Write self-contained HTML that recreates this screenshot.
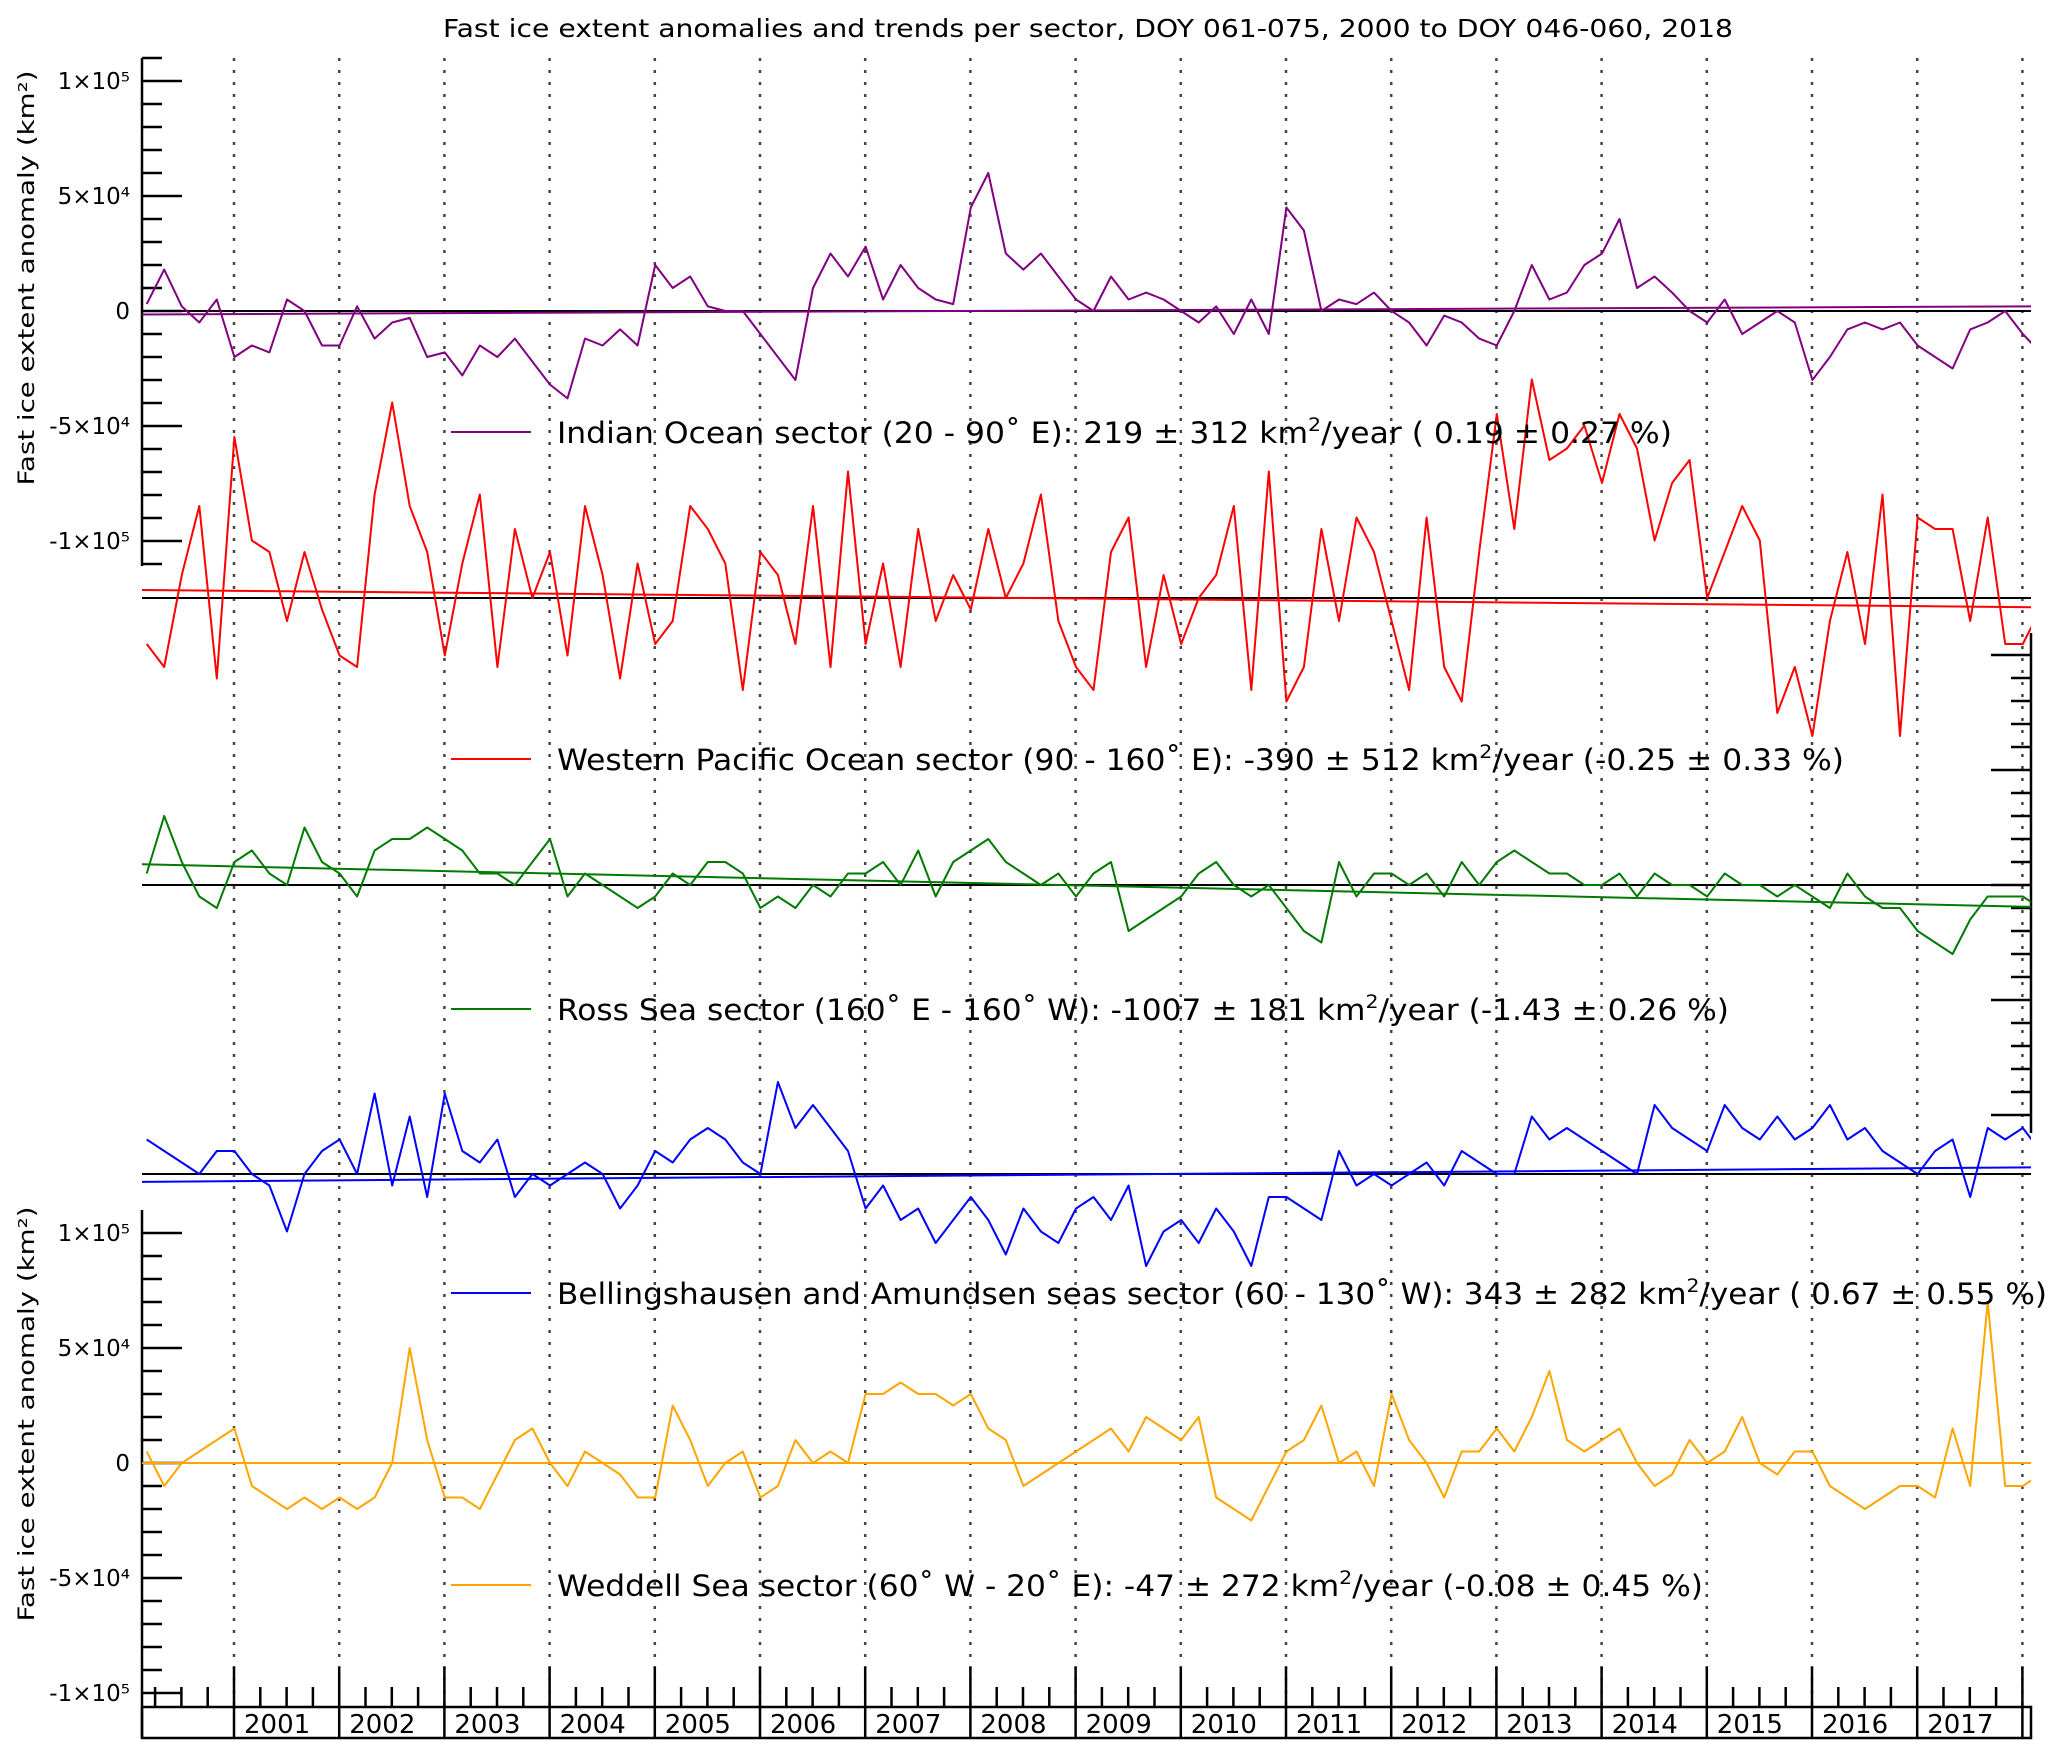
<!DOCTYPE html>
<html><head><meta charset="utf-8"><style>
html,body{margin:0;padding:0;background:#fff}
svg{display:block}
text{font-family:"DejaVu Sans","Liberation Sans",sans-serif;fill:#000}
</style></head><body>
<svg id="chart" width="2067" height="1757" viewBox="0 0 2067 1757" xmlns="http://www.w3.org/2000/svg">
<text x="1088" y="37" font-size="25" text-anchor="middle" textLength="1290" lengthAdjust="spacingAndGlyphs">Fast ice extent anomalies and trends per sector, DOY 061-075, 2000 to DOY 046-060, 2018</text>
<text transform="translate(34,278) rotate(-90)" font-size="22" text-anchor="middle" textLength="415" lengthAdjust="spacingAndGlyphs">Fast ice extent anomaly (km²)</text>
<text transform="translate(34,1414) rotate(-90)" font-size="22" text-anchor="middle" textLength="415" lengthAdjust="spacingAndGlyphs">Fast ice extent anomaly (km²)</text>
<g id="grid"></g>
<g id="axes"></g>
<g id="series"></g>
<g id="legend"></g>
</svg>
<script>
// values in 1000 km^2, bi-monthly samples starting 2000.17
const purple=[3,18,2,-5,5, -20,-15,-18,5,0,-15, -15,2,-12,-5,-3,-20, -18,-28,-15,-20,-12,-22, -32,-38,-12,-15,-8,-15, 20,10,15,2,0,0, -10,-20,-30,10,25,15, 28,5,20,10,5,3, 45,60,25,18,25,15, 5,0,15,5,8,5, 0,-5,2,-10,5,-10, 45,35,0,5,3,8, 0,-5,-15,-2,-5,-12, -15,0,20,5,8,20, 25,40,10,15,8,0, -5,5,-10,-5,0,-5, -30,-20,-8,-5,-8,-5, -15,-20,-25,-8,-5,0, -10,-18];
const red=[-20,-30,10,40,-35, 70,25,20,-10,20,-5, -25,-30,45,85,40,20, -25,15,45,-30,30,0, 20,-25,40,10,-35,15, -20,-10,40,30,15,-40, 20,10,-20,40,-30,55, -20,15,-30,30,-10,10, -5,30,0,15,45,-10, -30,-40,20,35,-30,10, -20,0,10,40,-40,55, -45,-30,30,-10,35,20, -10,-40,35,-30,-45,20, 80,30,95,60,65,75, 50,80,65,25,50,60, 0,20,40,25,-50,-30, -60,-10,20,-20,45,-60, 35,30,30,-10,35,-20, -20,-5];
const green=[5,30,10,-5,-10, 10,15,5,0,25,10, 5,-5,15,20,20,25, 20,15,5,5,0,10, 20,-5,5,0,-5,-10, -5,5,0,10,10,5, -10,-5,-10,0,-5,5, 5,10,0,15,-5,10, 15,20,10,5,0,5, -5,5,10,-20,-15,-10, -5,5,10,0,-5,0, -10,-20,-25,10,-5,5, 5,0,5,-5,10,0, 10,15,10,5,5,0, 0,5,-5,5,0,0, -5,5,0,0,-5,0, -5,-10,5,-5,-10,-10, -20,-25,-30,-15,-5,-5, -5,-10];
const blue=[15,10,5,0,10, 10,0,-5,-25,0,10, 15,0,35,-5,25,-10, 35,10,5,15,-10,0, -5,0,5,0,-15,-5, 10,5,15,20,15,5, 0,40,20,30,20,10, -15,-5,-20,-15,-30,-20, -10,-20,-35,-15,-25,-30, -15,-10,-20,-5,-40,-25, -20,-30,-15,-25,-40,-10, -10,-15,-20,10,-5,0, -5,0,5,-5,10,5, 0,0,25,15,20,15, 10,5,0,30,20,15, 10,30,20,15,25,15, 20,30,15,20,10,5, 0,10,15,-10,20,15, 20,10];
const orange=[5,-10,0,5,10, 15,-10,-15,-20,-15,-20, -15,-20,-15,0,50,10, -15,-15,-20,-5,10,15, 0,-10,5,0,-5,-15, -15,25,10,-10,0,5, -15,-10,10,0,5,0, 30,30,35,30,30,25, 30,15,10,-10,-5,0, 5,10,15,5,20,15, 10,20,-15,-20,-25,-10, 5,10,25,0,5,-10, 30,10,0,-15,5,5, 15,5,20,40,10,5, 10,15,0,-10,-5,10, 0,5,20,0,-5,5, 5,-10,-15,-20,-15,-10, -10,-15,15,-10,70,-10, -10,-5];
const trendStart=[-1.5,3.5,9,-3.4,0];
const trendEnd=[2,-4,-9.5,2.9,0];
const years=['2001','2002','2003','2004','2005','2006','2007','2008','2009','2010','2011','2012','2013','2014','2015','2016','2017'];
const yTickLabels=['1×10⁵','5×10⁴','0','-5×10⁴','-1×10⁵'];
const yTickValues=[100,50,0,-50,-100];
const legendTexts=['Indian Ocean sector (20 - 90˚ E):  219 ±  312 km','Western Pacific Ocean sector (90 - 160˚ E):  -390 ±  512 km','Ross Sea sector (160˚ E - 160˚ W):  -1007 ±  181 km','Bellingshausen and Amundsen seas sector (60 - 130˚ W):  343 ±  282 km','Weddell Sea sector (60˚ W - 20˚ E):  -47 ±  272 km'];
const legendTails=['/year ( 0.19 ±  0.27 %)','/year (-0.25 ±  0.33 %)','/year (-1.43 ±  0.26 %)','/year ( 0.67 ±  0.55 %)','/year (-0.08 ±  0.45 %)'];

const NS='http://www.w3.org/2000/svg';
const L=142,R=2031,TOP=58,BOX=1707,BOXB=1738;
const zeros=[311,598,885,1174,1463];
const K=2.3;
const colors=['#800080','#ff0000','#007a00','#0000ff','#ffa500'];
const names=['indian-ocean','western-pacific','ross-sea','bellingshausen-amundsen','weddell-sea'];
const allSeries=[purple,red,green,blue,orange];
function xT(t){return 234+(t-2001)*105.2;}
function tI(i){return 2000.17+i/6;}
function yV(s,v){return zeros[s]-v*K;}
function mk(tag,attrs,parent){const e=document.createElementNS(NS,tag);for(const k in attrs)e.setAttribute(k,attrs[k]);parent.appendChild(e);return e;}
const grid=document.getElementById('grid'),axes=document.getElementById('axes'),ser=document.getElementById('series'),leg=document.getElementById('legend');
const defs=mk('defs',{},document.getElementById('chart'));
const cp=mk('clipPath',{id:'plotclip'},defs);mk('rect',{x:L,y:TOP,width:R-L,height:BOX-TOP},cp);

for(let y=2001;y<=2018;y++){const x=xT(y);
 const g=mk('line',{x1:x,y1:TOP,x2:x,y2:BOX,stroke:'#444','stroke-width':2.5,'stroke-dasharray':'3 9'},grid);
 
 }

function axisL(y1,y2,zero,lo,hi,labels){
 mk('line',{x1:L,y1:y1,x2:L,y2:y2,stroke:'#000','stroke-width':2.5},axes);
 for(let k=lo;k<=hi;k++){const y=zero-k*10*K;const major=(k%5===0);
  mk('line',{x1:L,y1:y,x2:L+(major?40:20),y2:y,stroke:'#000','stroke-width':2.5},axes);}
 if(labels){yTickValues.forEach((v,i)=>{const t=mk('text',{x:130,y:zero-v*K+8,'font-size':23,'text-anchor':'end'},axes);t.textContent=yTickLabels[i];
  
  });}
}
axisL(TOP,566,zeros[0],-11,11,true);
axisL(1210,BOXB,zeros[4],-10,10,true);
mk('line',{x1:R,y1:633,x2:R,y2:1133,stroke:'#000','stroke-width':2.5},axes);
for(let k=-10;k<=10;k++){const y=zeros[2]-k*10*K;const major=(k%5===0);
 mk('line',{x1:R,y1:y,x2:R-(major?40:20),y2:y,stroke:'#000','stroke-width':2.5},axes);}
mk('rect',{x:L,y:BOX,width:R-L,height:BOXB-BOX,fill:'none',stroke:'#000','stroke-width':2.5},axes);
for(let y=2001;y<=2018;y++){const x=xT(y);
 mk('line',{x1:x,y1:1667,x2:x,y2:BOXB,stroke:'#000','stroke-width':2.5},axes);}
for(let q=2000.25;q<2018.1;q+=0.25){if(Math.abs(q-Math.round(q))<0.01)continue;const x=xT(q);if(x<L+3||x>R-3)continue;
 mk('line',{x1:x,y1:1687,x2:x,y2:BOX,stroke:'#000','stroke-width':2.5},axes);}
years.forEach((yr,i)=>{const t=mk('text',{x:xT(2001+i)+10,y:1733,'font-size':26},axes);t.textContent=yr;
 
 });

allSeries.forEach((arr,s)=>{
 const z=mk('line',{x1:L,y1:zeros[s],x2:R,y2:zeros[s],stroke:'#000','stroke-width':2},ser);
 
 
 const tr=mk('line',{x1:L,y1:yV(s,trendStart[s]),x2:R,y2:yV(s,trendEnd[s]),stroke:colors[s],'stroke-width':2},ser);
 
 
 const pts=arr.map((v,i)=>xT(tI(i)).toFixed(1)+','+yV(s,v).toFixed(1)).join(' ');
 const p=mk('polyline',{points:pts,fill:'none',stroke:colors[s],'stroke-width':2,'clip-path':'url(#plotclip)','stroke-linejoin':'round'},ser);
 
 
});

const legBase=[443,770,1020,1304,1596];
const legEnd=[1672,1844,1729,2047,1703];
legendTexts.forEach((txt,s)=>{
 const g=mk('g',{},leg);
 
 
 mk('line',{x1:451,y1:legBase[s]-11,x2:531,y2:legBase[s]-11,stroke:colors[s],'stroke-width':2},g);
 const t=mk('text',{x:557,y:legBase[s],'font-size':29,textLength:legEnd[s]-557,lengthAdjust:'spacingAndGlyphs'},g);
 t.appendChild(document.createTextNode(txt));
 const sup=mk('tspan',{dy:-12,'font-size':19},t);sup.textContent='2';
 const tail=mk('tspan',{dy:12},t);tail.textContent=legendTails[s];
});
</script>
</body></html>
